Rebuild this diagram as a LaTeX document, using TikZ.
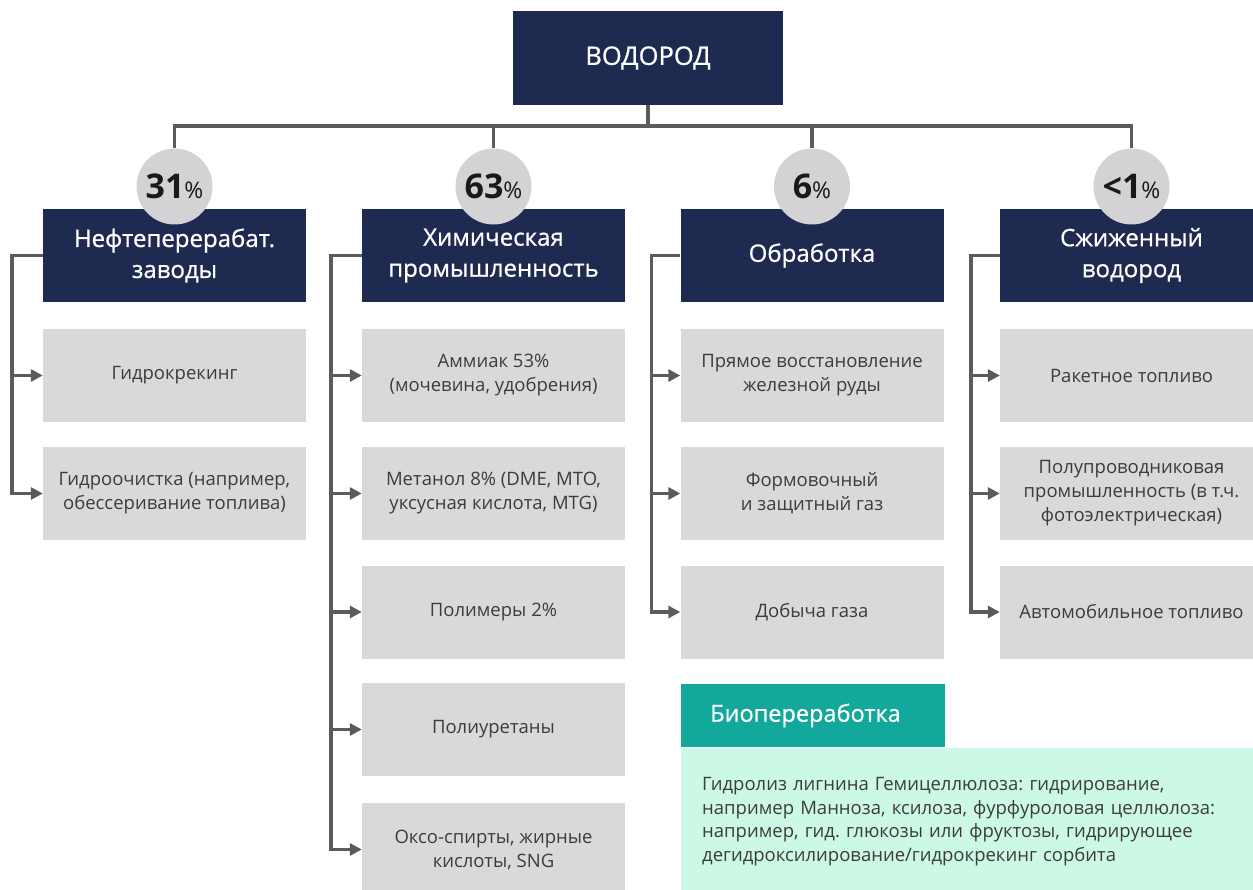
\documentclass[tikz,border=0pt]{standalone}
\usepackage{fontspec}
\setmainfont{Open Sans}
\newfontfamily\medfont{Open Sans}[FakeBold=0.8]
\usetikzlibrary{arrows.meta}
\frenchspacing

\definecolor{navy}{HTML}{1E2A4F}
\definecolor{boxgray}{HTML}{D9D9D9}
\definecolor{circgray}{HTML}{D3D3D5}
\definecolor{linegray}{HTML}{5B5B5B}
\definecolor{txtgray}{HTML}{3C3C3C}
\definecolor{biogreen}{HTML}{12A99C}
\definecolor{biomint}{HTML}{CCF8E6}

\newcommand\sharelabel[1]{{\fontsize{34}{34}\selectfont\bfseries #1}{\fontsize{23}{23}\selectfont\%}}

\tikzset{
  titlebox/.style={fill=navy, text=white, minimum width=270pt, minimum height=94pt, inner sep=0pt, font=\medfont\fontsize{25.5}{30}\selectfont},
  catbox/.style={fill=navy, text=white, minimum width=263pt, minimum height=93pt, inner sep=0pt, align=center, font=\medfont\fontsize{24}{31}\selectfont},
  sharecirc/.style={circle, fill=circgray, minimum size=76pt, inner sep=0pt, text=black!90},
  usebox/.style={fill=boxgray, text=txtgray, minimum width=263pt, minimum height=93pt, inner sep=0pt, align=center, font=\fontsize{18.5}{24}\selectfont},
  conn/.style={draw=linegray, line width=3.5pt},
  arr/.style={conn, -{Triangle[length=12pt,width=12pt]}},
}

\begin{document}
\begin{tikzpicture}[x=1pt, y=-1pt]
\clip (0,0) rectangle (1253,890);
\fill[white] (0,0) rectangle (1253,890);

\node[titlebox] (hydrogen) at (648,58) {ВОДОРОД};

% sectors
\node[catbox] (refinery) at (174.5,255.5) {Нефтеперерабат.\\заводы};
\node[catbox] (chemistry) at (493.5,255.5) {Химическая\\промышленность};
\node[catbox] (processing) at (812,255.5) {Обработка};
\node[catbox] (liquid) at (1131.5,255.5) {Сжиженный\\водород};

\node[sharecirc] (share1) at (174.5,186.5) {\sharelabel{31}};
\node[sharecirc] (share2) at (493.5,186.5) {\sharelabel{63}};
\node[sharecirc] (share3) at (812,186.5) {\sharelabel{6}};
\node[sharecirc] (share4) at (1131.5,186.5) {\sharelabel{<1}};

\coordinate (bar) at (648,126);
\draw[conn] (hydrogen.south) -- (bar);
\draw[conn] (share1.north) -- (share1.north |- bar) -- (share4.north |- bar) -- (share4.north);
\draw[conn] (share2.north) -- (share2.north |- bar);
\draw[conn] (share3.north) -- (share3.north |- bar);

% uses
\node[usebox] (ref1) at (174.5,375.5) {Гидрокрекинг};
\node[usebox] (ref2) at (174.5,493.5) {Гидроочистка (например,\\обессеривание топлива)};

\node[usebox] (chem1) at (493.5,375.5) {Аммиак 53\%\\(мочевина, удобрения)};
\node[usebox] (chem2) at (493.5,493.5) {Метанол 8\% (DME, MTO,\\уксусная кислота, MTG)};
\node[usebox] (chem3) at (493.5,612) {Полимеры 2\%};
\node[usebox] (chem4) at (493.5,729.5) {Полиуретаны};
\node[usebox] (chem5) at (493.5,849.5) {Оксо-спирты, жирные\\кислоты, SNG};

\node[usebox] (proc1) at (812,375.5) {Прямое восстановление\\железной руды};
\node[usebox] (proc2) at (812,493.5) {Формовочный\\и защитный газ};
\node[usebox] (proc3) at (812,612) {Добыча газа};

\node[usebox] (liq1) at (1131.5,375.5) {Ракетное топливо};
\node[usebox] (liq2) at (1131.5,493.5) {Полупроводниковая\\промышленность (в т.ч.\\фотоэлектрическая)};
\node[usebox] (liq3) at (1131.5,612) {Автомобильное топливо};

% trunks
\coordinate (reftrunk) at ([xshift=-31pt]refinery.west);
\coordinate (chemtrunk) at ([xshift=-31pt]chemistry.west);
\coordinate (proctrunk) at ([xshift=-29pt]processing.west);
\coordinate (liqtrunk) at ([xshift=-29pt]liquid.west);

\draw[arr] (refinery.west) -- (reftrunk) |- (ref2.west);
\draw[arr] (reftrunk |- ref1.west) -- (ref1.west);
\draw[arr] (chemistry.west) -- (chemtrunk) |- (chem5.west);
\foreach \n in {1,...,4}
  \draw[arr] (chemtrunk |- chem\n.west) -- (chem\n.west);
\draw[arr] (processing.west) -- (proctrunk) |- (proc3.west);
\draw[arr] (proctrunk |- proc1.west) -- (proc1.west);
\draw[arr] (proctrunk |- proc2.west) -- (proc2.west);
\draw[arr] (liquid.west) -- (liqtrunk) |- (liq3.west);
\draw[arr] (liqtrunk |- liq1.west) -- (liq1.west);
\draw[arr] (liqtrunk |- liq2.west) -- (liq2.west);

% bioprocessing
\node[fill=biogreen, text=white, anchor=north west, minimum height=63.5pt, inner xsep=29pt, inner ysep=0pt, text width=205.5pt, align=left, font=\medfont\fontsize{23.5}{28}\selectfont] (biohead) at (681,683.6) {Биопереработка};
\node[fill=biomint, text=txtgray, anchor=north west, minimum height=148pt, inner xsep=21pt, inner ysep=0pt, text width=540pt, align=left, font=\fontsize{18.5}{23.6}\selectfont] (biobody) at (biohead.south west) {Гидролиз лигнина Гемицеллюлоза: гидрирование,\\например Манноза, ксилоза, фурфуроловая целлюлоза:\\например, гид. глюкозы или фруктозы, гидрирующее\\дегидроксилирование/гидрокрекинг сорбита};
\end{tikzpicture}
\end{document}
